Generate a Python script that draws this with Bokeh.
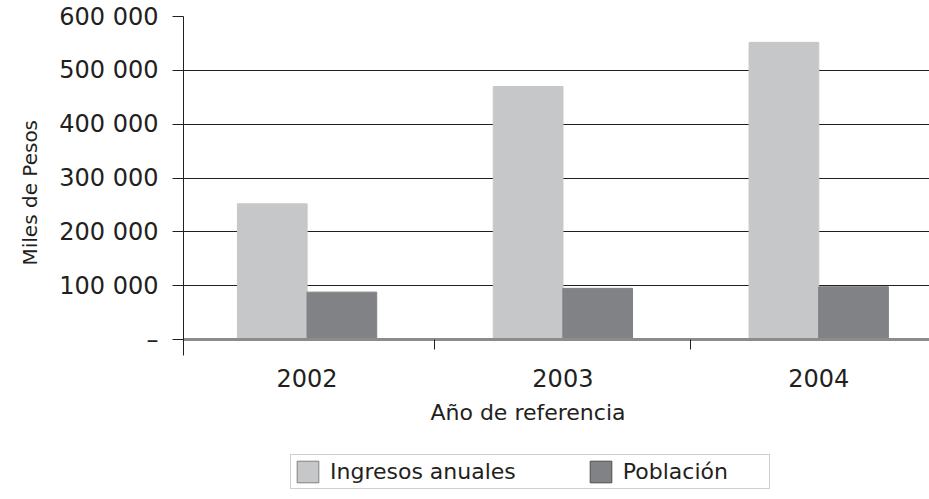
from bokeh.plotting import figure
from bokeh.models import ColumnDataSource, Range1d, FixedTicker, Label, Legend, LegendItem, Title
from bokeh.transform import dodge
from bokeh.embed import file_html
from bokeh.resources import INLINE

years = ["2002", "2003", "2004"]
ingresos = [252000, 470000, 552000]
poblacion = [88000, 95000, 98000]
y_ticks = [0, 100000, 200000, 300000, 400000, 500000, 600000]
y_tick_labels = ["–", "100 000", "200 000", "300 000", "400 000", "500 000", "600 000"]
series_names = ["Ingresos anuales", "Población"]
x_title = "Año de referencia"
y_title = "Miles de Pesos"

TEXT = "#231f20"
FONT = "DejaVu Sans"
C_ING = "#c6c7c9"
C_POB = "#818285"

xc = [i + 0.5 for i in range(len(years))]
src = ColumnDataSource(dict(x=xc, ing=ingresos, pob=poblacion))

# frame spans the full height below the plot so that the axis labels,
# the axis title and the legend can live inside it
p = figure(width=929, height=499, output_backend="svg", toolbar_location=None,
           x_range=Range1d(0.017, 2.933), y_range=Range1d(-297200, 600000),
           min_border_left=183, min_border_right=0, min_border_top=16,
           min_border_bottom=0)
p.outline_line_color = None
p.background_fill_color = "white"

r1 = p.vbar(x=dodge("x", -0.136), top="ing", width=0.2725, source=src,
            fill_color=C_ING, line_color=C_ING)
r2 = p.vbar(x=dodge("x", 0.136), top="pob", width=0.2725, source=src,
            fill_color=C_POB, line_color=C_POB)

# legend swatches with an outline (no visible data)
nan = float("nan")
l1 = p.vbar(x=[nan], top=[nan], width=0.2, fill_color=C_ING, line_color="#808080")
l2 = p.vbar(x=[nan], top=[nan], width=0.2, fill_color=C_POB, line_color="#4d4d4d")

# x axis, drawn on the zero line
xa = p.xaxis[0]
xa.fixed_location = 0
xa.ticker = FixedTicker(ticks=xc, minor_ticks=list(range(1, len(years))))
xa.major_label_overrides = {x: y for x, y in zip(xc, years)}
xa.axis_line_color = "#8c8c8c"
xa.axis_line_width = 3
xa.major_tick_out = 0
xa.major_tick_in = 0
xa.minor_tick_out = 10
xa.minor_tick_in = 0
xa.minor_tick_line_color = TEXT
xa.major_label_standoff = 19
xa.major_label_text_font = FONT
xa.major_label_text_font_size = "24px"
xa.major_label_text_color = TEXT
p.xgrid.visible = False

# y axis
ya = p.yaxis[0]
ya.bounds = (-29700, 600000)
ya.ticker = FixedTicker(ticks=y_ticks, minor_ticks=[])
ya.major_label_overrides = {t: l for t, l in zip(y_ticks, y_tick_labels)}
ya.axis_line_color = TEXT
ya.major_tick_line_color = TEXT
ya.major_tick_out = 11
ya.major_tick_in = 0
ya.major_label_standoff = 14
ya.major_label_text_font = FONT
ya.major_label_text_font_size = "24px"
ya.major_label_text_color = TEXT

p.ygrid.ticker = FixedTicker(ticks=y_ticks[1:], minor_ticks=[])
p.ygrid.grid_line_color = TEXT
p.ygrid.grid_line_width = 1
p.ygrid.grid_line_alpha = 1

# y axis title (left panel, placed along the plotted part of the axis)
yt = Title(text=y_title, align="left", offset=234, standoff=30,
           text_font=FONT, text_font_size="20px", text_font_style="normal",
           text_color=TEXT)
p.add_layout(yt, "left")

# x axis title
p.add_layout(Label(x=1.3635, y=-135600, text=x_title, text_align="center",
                   text_baseline="middle", text_font=FONT, text_font_size="22px",
                   text_color=TEXT))

legend = Legend(items=[LegendItem(label=series_names[0], renderers=[l1]),
                       LegendItem(label=series_names[1], renderers=[l2])],
                orientation="horizontal", location=(107, 10))
legend.label_text_font = FONT
legend.label_text_font_size = "22px"
legend.label_text_color = TEXT
legend.glyph_width = 27
legend.glyph_height = 27
legend.label_standoff = 9
legend.spacing = 71
legend.padding = 3
legend.margin = 0
legend.label_width = 143
legend.border_line_color = "#a0a0a0"
legend.border_line_width = 1
legend.background_fill_color = "white"
legend.background_fill_alpha = 1
p.add_layout(legend, "center")

open("out.html", "w").write(file_html(p, INLINE))
